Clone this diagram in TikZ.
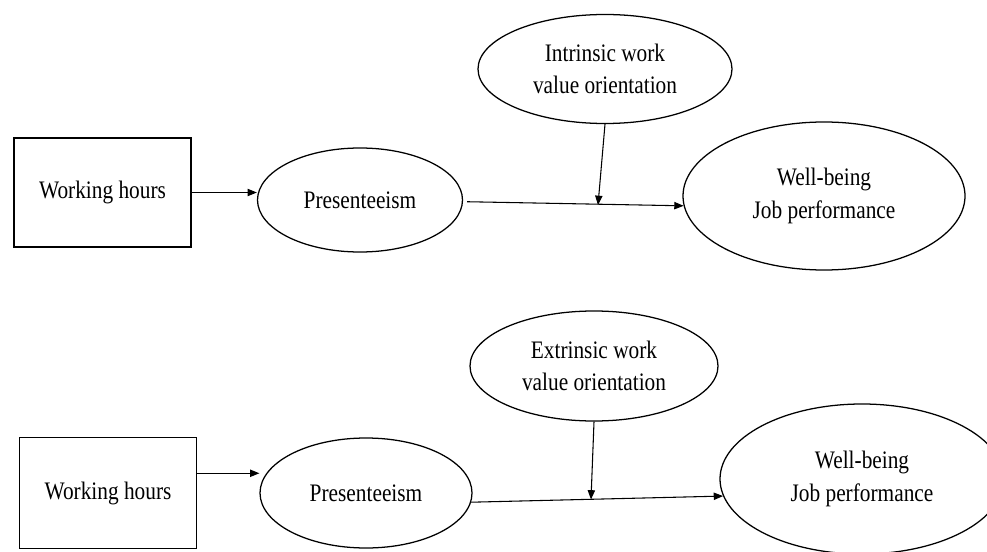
\documentclass[tikz,border=0pt]{standalone}
\usepackage{fontspec}
\setmainfont{Liberation Serif}
\usepackage{graphicx}
\usetikzlibrary{shapes.geometric,arrows.meta}
\newcommand{\vs}[1]{\scalebox{1}[1.18]{#1}}
\begin{document}
\begin{tikzpicture}[x=0.75pt,y=-0.75pt,
  every node/.style={font=\fontsize{16}{24.5}\selectfont, inner sep=0pt, align=center},
  boxnode/.style={draw, rectangle, line width=0.95pt},
  ellnode/.style={draw, ellipse, line width=0.95pt},
  arr/.style={-{Triangle[length=7pt,width=5.5pt]}, line width=0.8pt}]
\useasboundingbox (0,0) rectangle (987,552);
\clip (0,0) rectangle (987,552);

% top diagram
\node[boxnode, minimum width=132.75pt, minimum height=81.75pt] (wh1) at (102.5,192.5) {\vs{Working hours}};
\node[ellnode, minimum width=153.75pt, minimum height=78pt] (p1) at (360,200) {\vs{Presenteeism}};
\node[ellnode, minimum width=190.5pt, minimum height=81.75pt] (iv) at (605,69) {\vs{Intrinsic work}\\\vs{value orientation}};
\node[ellnode, minimum width=211.5pt, minimum height=111pt] (wb1) at (824,196) {\vs{Well-being}\\\vs{Job performance}};
\coordinate (m1) at (598,205);

\draw[arr] (wh1.east) -- (wh1.east -| p1.west);
\draw[arr] ([shift={(3pt,-1.3pt)}]p1.east) -- (wb1.184.6);
\draw[arr] (iv.south) -- (m1);

% bottom diagram
\node[boxnode, minimum width=132.75pt, minimum height=83.25pt] (wh2) at (108,493) {\vs{Working hours}};
\node[ellnode, minimum width=159pt, minimum height=82.5pt] (p2) at (366,493) {\vs{Presenteeism}};
\node[ellnode, minimum width=186pt, minimum height=82.5pt] (ev) at (594,366) {\vs{Extrinsic work}\\\vs{value orientation}};
\node[ellnode, minimum width=213pt, minimum height=112.5pt] (wb2) at (862,479) {\vs{Well-being}\\\vs{Job performance}};
\coordinate (s2) at ([yshift=14.8pt]wh2.east);
\coordinate (m2) at (591,499.5);

\draw[arr] (s2) -- (s2 -| p2.west);
\draw[arr] (p2.355) -- (wb2.187.3);
\draw[arr] (ev.south) -- (m2);
\end{tikzpicture}
\end{document}
